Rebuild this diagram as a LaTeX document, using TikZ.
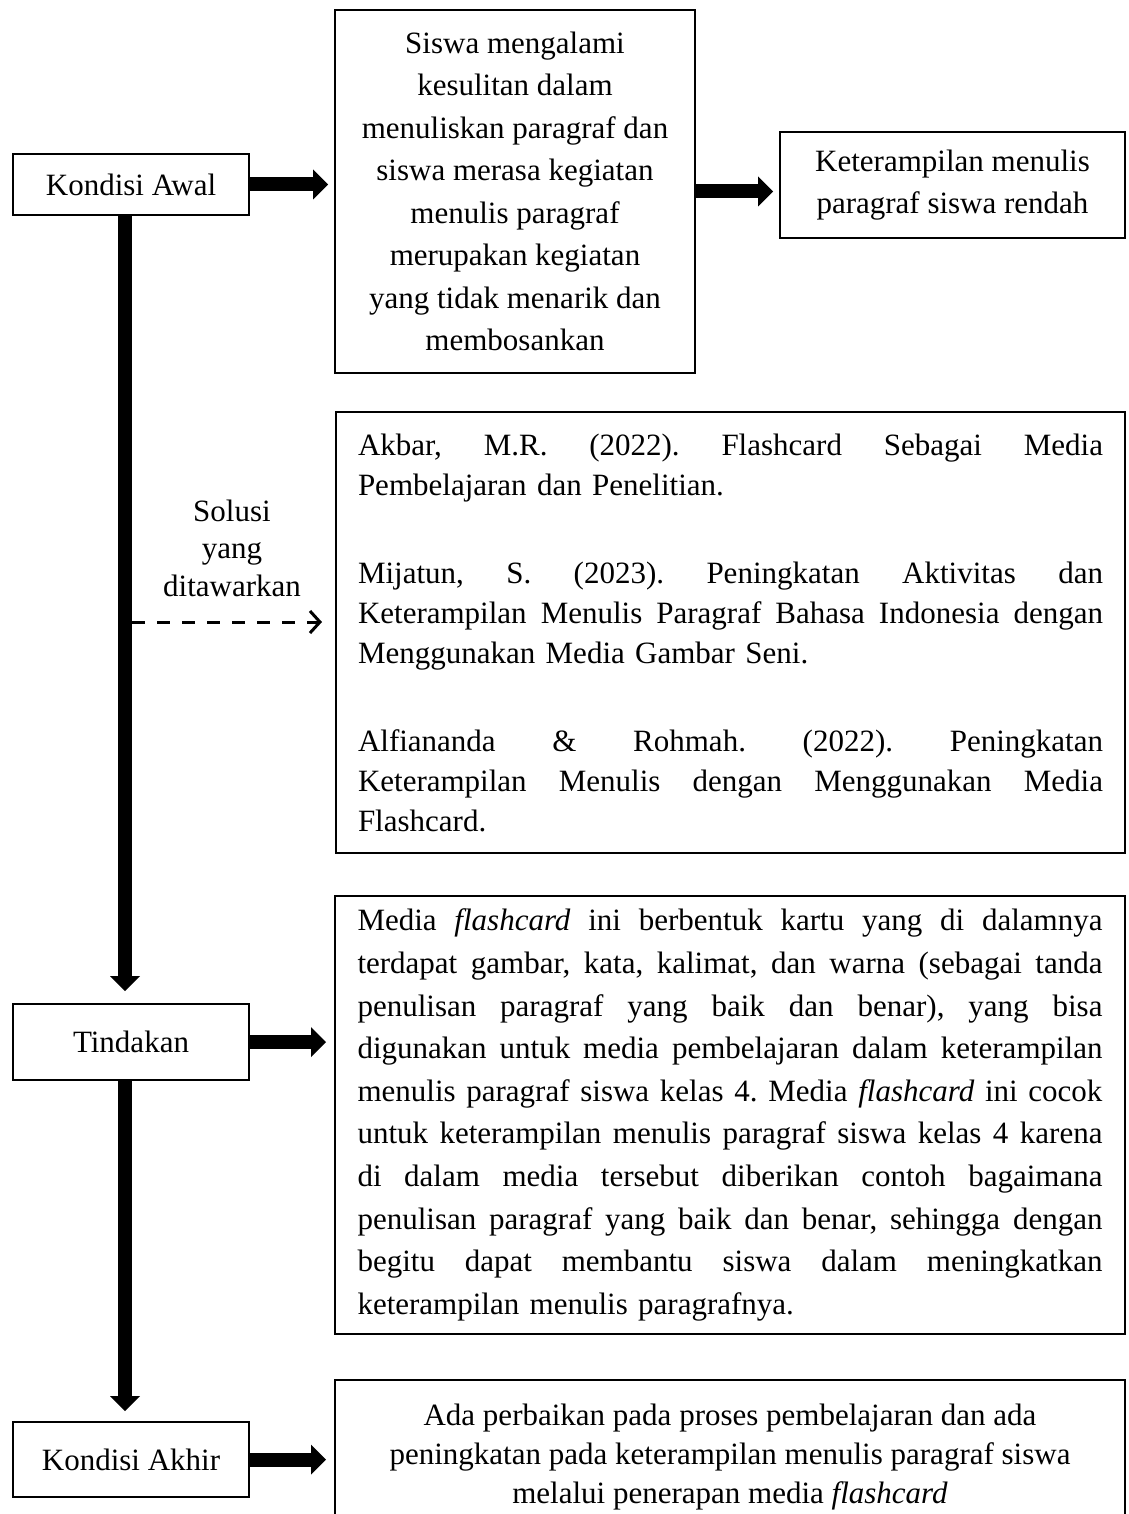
\documentclass[tikz,border=0pt]{standalone}
\usepackage{fontspec}
\setmainfont{Liberation Serif}
\usetikzlibrary{arrows.meta}
\newcommand\jline[1]{\makebox[745pt][s]{\frenchspacing\spaceskip=.25em plus 1fil\relax\xspaceskip=\spaceskip #1}}
\begin{document}
\begin{tikzpicture}[x=1pt,y=-1pt,
  box/.style={draw, line width=2pt, inner sep=0pt, align=center},
  fat/.style={line width=14pt, -{Triangle[length=15pt,width=30pt,line width=0pt]}},
  dashline/.style={line width=3pt, dash pattern=on 13pt off 12pt, -{Straight Barb[length=10pt,width=22pt]}},
  fA/.style={font=\fontsize{31pt}{42.5pt}\selectfont},
  fB/.style={font=\fontsize{31pt}{40pt}\selectfont},
  fC/.style={font=\fontsize{31pt}{42.6pt}\selectfont},
  fD/.style={font=\fontsize{31pt}{39pt}\selectfont},
  fS/.style={font=\fontsize{31pt}{37.5pt}\selectfont}
]
\path[use as bounding box] (0,0) rectangle (1128,1514);
\fill[white] (0,0) rectangle (1128,1514);
\clip (0,0) rectangle (1128,1514);

\node[box, fA, minimum width=236pt, minimum height=61pt] (ka) at (131,184.5) {Kondisi Awal};
\node[box, fA, minimum width=360pt, minimum height=363pt] (mid) at (515,191.5)
  {Siswa mengalami\\kesulitan dalam\\menuliskan paragraf dan\\siswa merasa kegiatan\\menulis paragraf\\merupakan kegiatan\\yang tidak menarik dan\\membosankan};
\node[box, fA, minimum width=345pt, minimum height=106pt] (rb) at (952.5,185)
  {Keterampilan menulis\\paragraf siswa rendah};

\node[box, fB, minimum width=789pt, minimum height=441pt, text width=745pt, align=left] (refs) at (730.5,632.5)
  {\jline{Akbar, M.R. (2022). Flashcard Sebagai Media}\\
   Pembelajaran dan Penelitian.\\[48pt]
   \jline{Mijatun, S. (2023). Peningkatan Aktivitas dan}\\
   \jline{Keterampilan Menulis Paragraf Bahasa Indonesia dengan}\\
   Menggunakan Media Gambar Seni.\\[48pt]
   \jline{Alfiananda \& Rohmah. (2022). Peningkatan}\\
   \jline{Keterampilan Menulis dengan Menggunakan Media}\\
   Flashcard.};

\node[fS, align=center] (sol) at (232,548) {Solusi\\yang\\ditawarkan};

\node[box, fA, minimum width=236pt, minimum height=76pt] (td) at (131,1042) {Tindakan};
\node[box, fC, minimum width=790pt, minimum height=438pt, text width=745pt, align=left] (big) at (730,1115)
  {\jline{Media \textit{flashcard} ini berbentuk kartu yang di dalamnya}\\
   \jline{terdapat gambar, kata, kalimat, dan warna (sebagai tanda}\\
   \jline{penulisan paragraf yang baik dan benar), yang bisa}\\
   \jline{digunakan untuk media pembelajaran dalam keterampilan}\\
   \jline{menulis paragraf siswa kelas 4. Media \textit{flashcard} ini cocok}\\
   \jline{untuk keterampilan menulis paragraf siswa kelas 4 karena}\\
   \jline{di dalam media tersebut diberikan contoh bagaimana}\\
   \jline{penulisan paragraf yang baik dan benar, sehingga dengan}\\
   \jline{begitu dapat membantu siswa dalam meningkatkan}\\
   keterampilan menulis paragrafnya.};

\node[box, fA, minimum width=236pt, minimum height=75pt] (kh) at (131,1459.5) {Kondisi Akhir};
\node[box, fD, minimum width=790pt, minimum height=155pt] (fin) at (730,1457.5)
  {Ada perbaikan pada proses pembelajaran dan ada\\peningkatan pada keterampilan menulis paragraf siswa\\melalui penerapan media \textit{flashcard}};

\draw[fat, shorten >=6pt] (ka.east) -- (mid.west |- ka.east);
\draw[fat, shorten >=6pt] (mid.east) -- (rb.west |- mid.east);
\draw[fat, shorten >=12pt] ([xshift=-6pt]ka.south) -- ([xshift=-6pt]td.north);
\draw[fat, shorten >=10pt] ([xshift=-6pt]td.south) -- ([xshift=-6pt]kh.north);
\draw[fat, shorten >=8pt] (td.east) -- (big.west |- td.east);
\draw[fat, shorten >=8pt] (kh.east) -- (fin.west |- kh.east);

\coordinate (ds) at (132,622);
\draw[dashline, shorten >=13pt] (ds) -- (refs.west |- ds);
\end{tikzpicture}
\end{document}
